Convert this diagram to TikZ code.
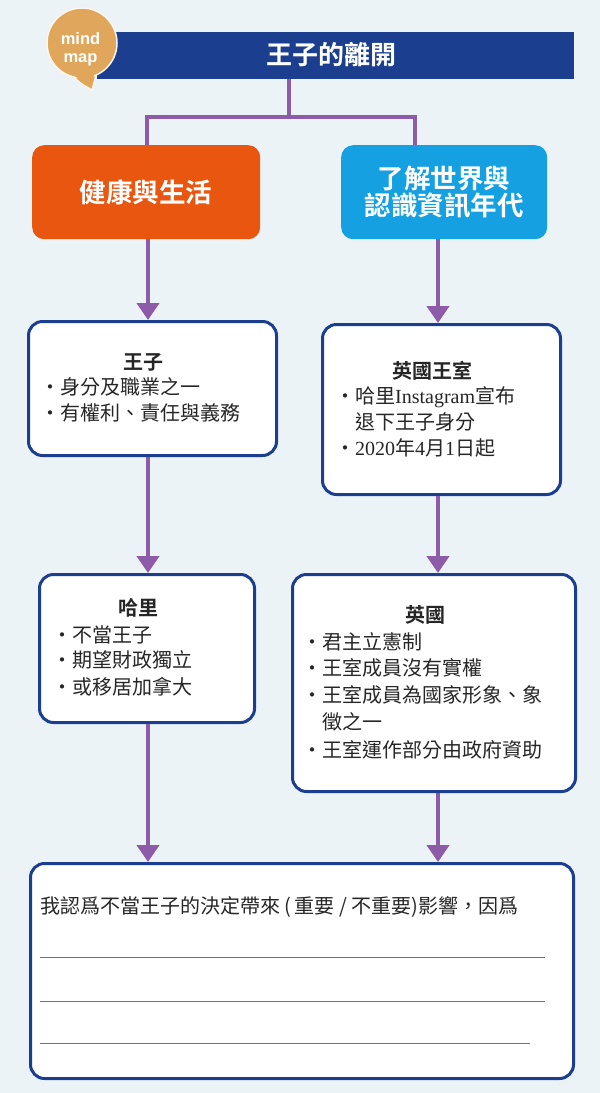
\documentclass[tikz,border=0pt]{standalone}
\usepackage{fontspec}
\setmainfont{Noto Sans CJK TC}[BoldFont={Noto Sans CJK TC Bold}]
\newfontfamily\lser{Liberation Serif}
\newfontfamily\bubblefont{Liberation Sans}[BoldFont={Liberation Sans Bold}]
\usetikzlibrary{arrows.meta}
\definecolor{bg}{HTML}{EBF3F6}
\definecolor{navy}{HTML}{1C3E8E}
\definecolor{purp}{HTML}{8E5BA8}
\definecolor{orng}{HTML}{E8560F}
\definecolor{sky}{HTML}{15A0E1}
\definecolor{tanc}{HTML}{E0A65C}
\definecolor{ink}{HTML}{262626}
\begin{document}
\begin{tikzpicture}[x=1pt,y=-1pt,
  bluebox/.style={draw=navy, line width=3pt, fill=white, rounded corners=14pt, anchor=north west, inner sep=0pt},
  headbox/.style={rounded corners=12pt, anchor=north west, inner sep=0pt, text=white, font=\bfseries\fontsize{26.5}{27}\selectfont, align=center},
  conn/.style={draw=purp, line width=4.5pt},
  arr/.style={conn, -{Triangle[width=22pt,length=17pt]}},
  ttl/.style={font=\bfseries\fontsize{20}{22}\selectfont, text=ink, inner sep=0pt},
  item/.style={font=\fontsize{20}{22}\selectfont, anchor=west, inner sep=0pt, text=ink},
  bubtxt/.style={text=white, font=\bubblefont\bfseries\fontsize{16.5}{18}\selectfont, inner sep=0pt, align=center},
  ruleline/.style={draw=black!55, line width=0.9pt}]
\useasboundingbox (0,0) rectangle (600,1093);
\fill[bg] (0,0) rectangle (600,1093);

% title bar
\node[fill=navy, anchor=north west, minimum width=477pt, minimum height=47pt, inner sep=0pt] (bar) at (97,32) {};
\node[text=white, font=\bfseries\fontsize{26}{27}\selectfont, inner sep=0pt] (title) at (331,55) {王子的離開};

% mind map bubble
\draw[fill=tanc, draw=white!90!tanc, line width=1.5pt] (67,69) .. controls (78,82) .. (92,90) -- (97,72) -- cycle;
\node[circle, fill=tanc, draw=white!90!tanc, line width=1.5pt, minimum size=70pt, inner sep=0pt] (bubble) at (82,43) {};
\fill[tanc] (70,70) .. controls (80,81) .. (91,87.5) -- (95,70) -- cycle;
\node[bubtxt] (mindmap) at (80.5,49) {mind\\map};

% category boxes
\node[headbox, fill=orng, minimum width=228pt, minimum height=94pt] (health) at (32,145) {健康與生活};
\node[headbox, fill=sky, minimum width=206pt, minimum height=94pt] (world) at (341,145) {了解世界與\\認識資訊年代};

\coordinate (tx) at (289,0);
\coordinate (jl) at (147,0);
\coordinate (jr) at (415,0);
\coordinate (lx) at (148,0);
\coordinate (rx) at (438,0);
\coordinate (mid) at (289,117);
\draw[conn] (bar.south -| tx) -- (mid);
\draw[conn, line join=miter] (mid) -| (health.north -| jl);
\draw[conn, line join=miter] (mid) -| (world.north -| jr);

% content boxes
\node[bluebox, minimum width=248pt, minimum height=134pt] (prince) at (27,320) {};
\node[ttl] (princet) at (143,362) {王子};
\node[item] (p1) at (40,387) {・身分及職業之一};
\node[item] (p2) at (40,413) {・有權利、責任與義務};

\node[bluebox, minimum width=238pt, minimum height=170pt] (royal) at (321,323) {};
\node[ttl] (royalt) at (432,371) {英國王室};
\node[item] (r1) at (335,397) {・哈里{\lser Instagram}宣布};
\node[item] (r2) at (355,422) {退下王子身分};
\node[item] (r3) at (335,448) {・{\lser 2020}年{\lser 4}月{\lser 1}日起};

\node[bluebox, minimum width=215pt, minimum height=148pt] (harry) at (38,573) {};
\node[ttl] (harryt) at (138,608) {哈里};
\node[item] (h1) at (52,635) {・不當王子};
\node[item] (h2) at (52,660) {・期望財政獨立};
\node[item] (h3) at (52,687) {・或移居加拿大};

\node[bluebox, minimum width=283pt, minimum height=217pt] (uk) at (291,573) {};
\node[ttl] (ukt) at (425,615) {英國};
\node[item] (u1) at (302,642) {・君主立憲制};
\node[item] (u2) at (302,668) {・王室成員沒有實權};
\node[item] (u3) at (302,695) {・王室成員為國家形象、象};
\node[item] (u4) at (322,722) {徵之一};
\node[item] (u5) at (302,750) {・王室運作部分由政府資助};

\node[bluebox, minimum width=543pt, minimum height=215pt] (answer) at (29,862) {};
\node[item] (q) at (40,907) {我認爲不當王子的決定帶來 (\,重要 / 不重要)影響，因爲};
\coordinate (l1s) at (40,957);
\coordinate (l1e) at (545,957);
\coordinate (l2s) at (40,1001);
\coordinate (l2e) at (545,1001);
\coordinate (l3s) at (40,1043);
\coordinate (l3e) at (530,1043);
\draw[ruleline] (l1s) -- (l1e);
\draw[ruleline] (l2s) -- (l2e);
\draw[ruleline] (l3s) -- (l3e);

% arrows
\draw[arr] (health.south -| lx) -- (prince.north -| lx);
\draw[arr] (world.south -| rx) -- (royal.north -| rx);
\draw[arr] (prince.south -| lx) -- (harry.north -| lx);
\draw[arr] (royal.south -| rx) -- (uk.north -| rx);
\draw[arr] (harry.south -| lx) -- (answer.north -| lx);
\draw[arr] (uk.south -| rx) -- (answer.north -| rx);
\end{tikzpicture}
\end{document}
